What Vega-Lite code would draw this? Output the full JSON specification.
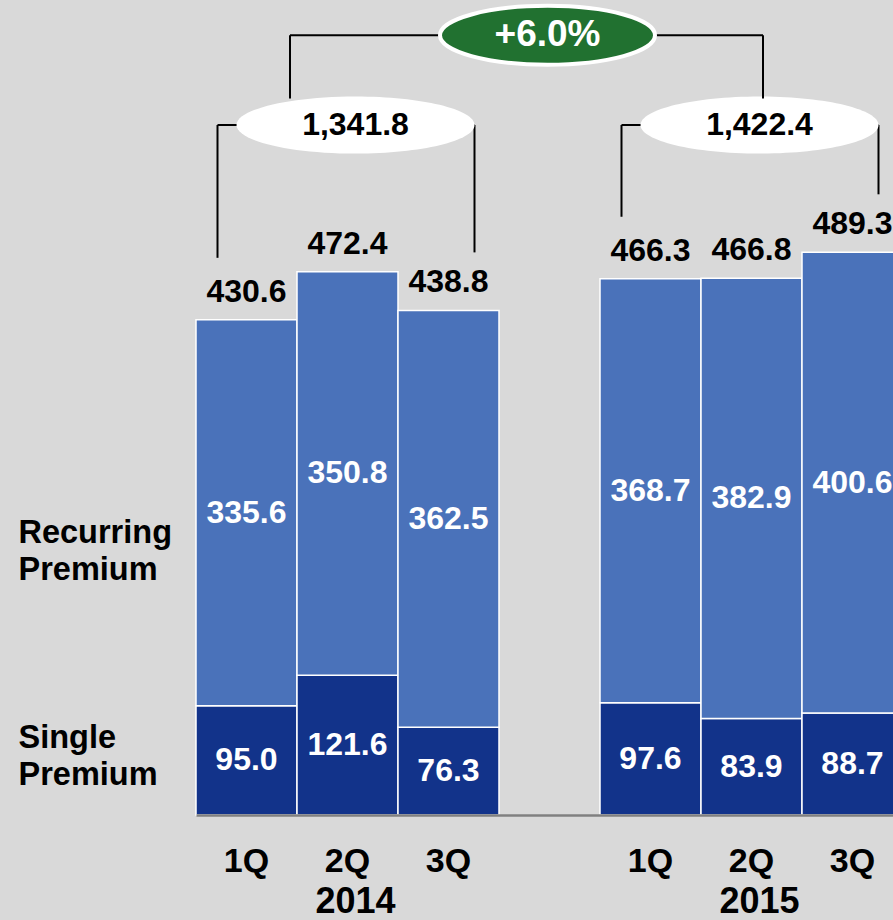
{
  "$schema": "https://vega.github.io/schema/vega-lite/v6.json",
  "width": 893,
  "height": 815,
  "autosize": {"type": "none"},
  "padding": {"left": 0, "top": 0, "right": 0, "bottom": 105},
  "background": "#d9d9d9",
  "config": {"view": {"stroke": null}, "text": {"font": "Liberation Sans", "fontWeight": "bold"}},
  "resolve": {"axis": {"x": "independent", "y": "independent"}},
  "datasets": {
    "premium": [
      {"period": "1Q 2014", "quarter": "1Q", "year": "2014", "type": "Single Premium", "value": 95.0},
      {"period": "1Q 2014", "quarter": "1Q", "year": "2014", "type": "Recurring Premium", "value": 335.6},
      {"period": "2Q 2014", "quarter": "2Q", "year": "2014", "type": "Single Premium", "value": 121.6},
      {"period": "2Q 2014", "quarter": "2Q", "year": "2014", "type": "Recurring Premium", "value": 350.8},
      {"period": "3Q 2014", "quarter": "3Q", "year": "2014", "type": "Single Premium", "value": 76.3},
      {"period": "3Q 2014", "quarter": "3Q", "year": "2014", "type": "Recurring Premium", "value": 362.5},
      {"period": "1Q 2015", "quarter": "1Q", "year": "2015", "type": "Single Premium", "value": 97.6},
      {"period": "1Q 2015", "quarter": "1Q", "year": "2015", "type": "Recurring Premium", "value": 368.7},
      {"period": "2Q 2015", "quarter": "2Q", "year": "2015", "type": "Single Premium", "value": 83.9},
      {"period": "2Q 2015", "quarter": "2Q", "year": "2015", "type": "Recurring Premium", "value": 382.9},
      {"period": "3Q 2015", "quarter": "3Q", "year": "2015", "type": "Single Premium", "value": 88.7},
      {"period": "3Q 2015", "quarter": "3Q", "year": "2015", "type": "Recurring Premium", "value": 400.6}
    ],
    "brackets": [
      {"year": "2014", "first": "1Q 2014", "mid": "2Q 2014", "last": "3Q 2014", "total": 1341.8},
      {"year": "2015", "first": "1Q 2015", "mid": "2Q 2015", "last": "3Q 2015", "total": 1422.4}
    ],
    "growth": [
      {"from": "2Q 2014", "mid": "gap", "to": "2Q 2015", "growth": 0.06}
    ]
  },
  "layer": [
    {
      "data": {"name": "premium"},
      "mark": {"type": "bar", "stroke": "#ffffff", "strokeWidth": 1.5},
      "encoding": {
        "x": {"field": "period", "type": "nominal",
          "scale": {"domain": ["1Q 2014", "2Q 2014", "3Q 2014", "gap", "1Q 2015", "2Q 2015", "3Q 2015"], "range": [196, 903], "paddingInner": 0, "paddingOuter": 0},
          "axis": {"title": null, "labelExpr": "datum.value == 'gap' ? '' : slice(datum.value, 0, 2)", "ticks": false, "domainColor": "#808080", "domainWidth": 2.5, "labelFont": "Liberation Sans", "labelFontWeight": "bold", "labelFontSize": 34, "labelColor": "#000000", "labelPadding": 29, "labelAngle": 0, "labelOverlap": false, "zindex": 1}},
        "y": {"field": "value", "type": "quantitative", "stack": "zero",
          "scale": {"domain": [0, 708.7], "nice": false, "zero": false},
          "axis": {"title": null, "orient": "left", "values": [67.5, 246], "labelExpr": "datum.value < 150 ? ['Single', 'Premium'] : ['Recurring', 'Premium']", "domain": false, "ticks": false, "grid": false, "labelAlign": "left", "labelBaseline": "middle", "labelPadding": -18, "labelFontSize": 32.5, "labelLineHeight": 37.5, "labelFont": "Liberation Sans", "labelFontWeight": "bold", "labelColor": "#000000", "labelBound": false, "labelOverlap": false, "labelFlush": false}},
        "color": {"field": "type", "type": "nominal", "scale": {"domain": ["Single Premium", "Recurring Premium"], "range": ["#12338A", "#4A72BA"]}, "legend": null},
        "order": {"field": "type", "type": "ordinal", "sort": "descending"}
      }
    },
    {
      "data": {"name": "premium"},
      "mark": {"type": "text", "color": "#ffffff", "fontSize": 32, "baseline": "middle"},
      "encoding": {
        "x": {"field": "period", "type": "nominal", "axis": null},
        "y": {"field": "value", "type": "quantitative", "stack": "zero", "bandPosition": 0.5, "axis": null},
        "detail": {"field": "type", "type": "nominal"},
        "order": {"field": "type", "type": "ordinal", "sort": "descending"},
        "text": {"field": "value", "type": "quantitative", "format": ".1f"}
      }
    },
    {
      "data": {"name": "premium"},
      "mark": {"type": "text", "color": "#000000", "fontSize": 32, "baseline": "alphabetic", "dy": -18},
      "encoding": {
        "x": {"field": "period", "type": "nominal", "axis": null},
        "y": {"aggregate": "sum", "field": "value", "type": "quantitative", "axis": null},
        "text": {"aggregate": "sum", "field": "value", "type": "quantitative", "format": ".1f"}
      }
    },
    {
      "data": {"name": "premium"},
      "transform": [{"filter": "datum.quarter == '1Q'"}],
      "mark": {"type": "rule", "color": "#000000", "strokeWidth": 2, "xOffset": -29, "yOffset": -62},
      "encoding": {
        "x": {"field": "period", "type": "nominal", "axis": null},
        "y": {"aggregate": "sum", "field": "value", "type": "quantitative", "axis": null},
        "y2": {"datum": 600}
      }
    },
    {
      "data": {"name": "premium"},
      "transform": [{"filter": "datum.quarter == '3Q'"}],
      "mark": {"type": "rule", "color": "#000000", "strokeWidth": 2, "xOffset": 26, "yOffset": -58},
      "encoding": {
        "x": {"field": "period", "type": "nominal", "axis": null},
        "y": {"aggregate": "sum", "field": "value", "type": "quantitative", "axis": null},
        "y2": {"datum": 600}
      }
    },
    {
      "data": {"name": "brackets"},
      "mark": {"type": "rule", "color": "#000000", "strokeWidth": 2, "xOffset": -29, "x2Offset": 26},
      "encoding": {
        "x": {"field": "first", "type": "nominal", "axis": null},
        "x2": {"field": "last"},
        "y": {"datum": 600, "type": "quantitative", "axis": null}
      }
    },
    {
      "data": {"name": "brackets"},
      "mark": {"type": "point", "shape": "M-1,0C-1,-0.1326,-0.5523,-0.24,0,-0.24C0.5523,-0.24,1,-0.1326,1,0C1,0.1326,0.5523,0.24,0,0.24C-0.5523,0.24,-1,0.1326,-1,0Z", "size": 56644, "filled": true, "fill": "#ffffff", "opacity": 1, "strokeWidth": 0, "xOffset": 8},
      "encoding": {
        "x": {"field": "mid", "type": "nominal", "axis": null},
        "y": {"datum": 600, "type": "quantitative", "axis": null}
      }
    },
    {
      "data": {"name": "brackets"},
      "mark": {"type": "text", "color": "#000000", "fontSize": 32, "baseline": "middle", "dx": 8},
      "encoding": {
        "x": {"field": "mid", "type": "nominal", "axis": null},
        "y": {"datum": 600, "type": "quantitative", "axis": null},
        "text": {"field": "total", "type": "quantitative", "format": ",.1f"}
      }
    },
    {
      "data": {"name": "growth"},
      "mark": {"type": "rule", "color": "#000000", "strokeWidth": 2, "xOffset": -57.5, "x2Offset": 11.5},
      "encoding": {
        "x": {"field": "from", "type": "nominal", "axis": null},
        "x2": {"field": "to"},
        "y": {"datum": 678, "type": "quantitative", "axis": null}
      }
    },
    {
      "data": {"name": "growth"},
      "mark": {"type": "rule", "color": "#000000", "strokeWidth": 2, "xOffset": -57.5},
      "encoding": {
        "x": {"field": "from", "type": "nominal", "axis": null},
        "y": {"datum": 678, "type": "quantitative", "axis": null},
        "y2": {"datum": 623}
      }
    },
    {
      "data": {"name": "growth"},
      "mark": {"type": "rule", "color": "#000000", "strokeWidth": 2, "xOffset": 11.5},
      "encoding": {
        "x": {"field": "to", "type": "nominal", "axis": null},
        "y": {"datum": 678, "type": "quantitative", "axis": null},
        "y2": {"datum": 623}
      }
    },
    {
      "data": {"name": "growth"},
      "mark": {"type": "point", "shape": "M-1,0C-1,-0.1513,-0.5523,-0.274,0,-0.274C0.5523,-0.274,1,-0.1513,1,0C1,0.1513,0.5523,0.274,0,0.274C-0.5523,0.274,-1,0.1513,-1,0Z", "size": 46225, "filled": true, "fill": "#217130", "stroke": "#ffffff", "strokeWidth": 4, "opacity": 1, "xOffset": -2},
      "encoding": {
        "x": {"field": "mid", "type": "nominal", "axis": null},
        "y": {"datum": 678, "type": "quantitative", "axis": null}
      }
    },
    {
      "data": {"name": "growth"},
      "mark": {"type": "text", "color": "#ffffff", "fontSize": 37, "baseline": "middle", "dx": -2},
      "encoding": {
        "x": {"field": "mid", "type": "nominal", "axis": null},
        "y": {"datum": 678, "type": "quantitative", "axis": null},
        "text": {"field": "growth", "type": "quantitative", "format": "+.1%"}
      }
    },
    {
      "data": {"name": "brackets"},
      "mark": {"type": "text", "color": "#000000", "fontSize": 36, "baseline": "middle", "dx": 8},
      "encoding": {
        "x": {"field": "mid", "type": "nominal", "axis": null},
        "y": {"datum": -76, "type": "quantitative", "axis": null},
        "text": {"field": "year", "type": "nominal"}
      }
    }
  ]
}
